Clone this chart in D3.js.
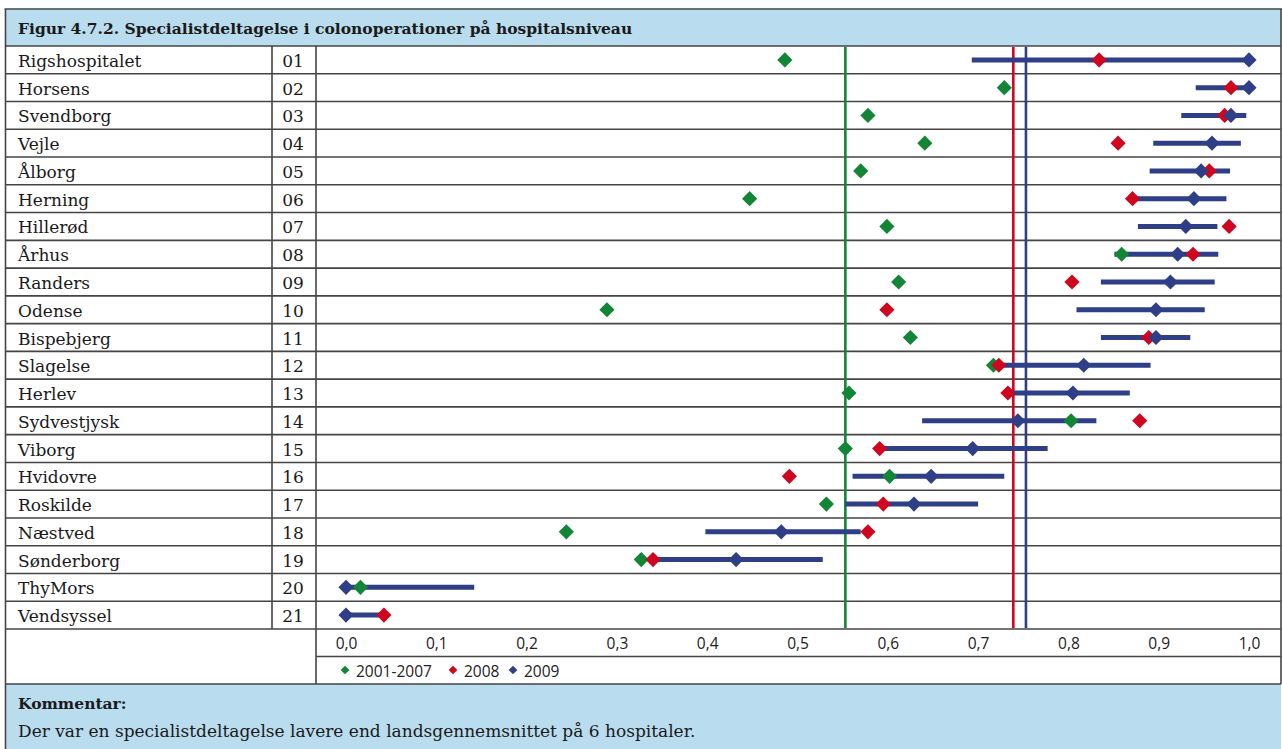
<!DOCTYPE html>
<html><head><meta charset="utf-8">
<script src="https://cdn.jsdelivr.net/npm/d3@7/dist/d3.min.js"></script>
<style>
html,body{margin:0;padding:0;background:#fff;}
svg{display:block;}
</style></head>
<body>
<svg id="chart" width="1282" height="749"></svg>
<script>
// ---- data ----
const hospitals = ["Rigshospitalet","Horsens","Svendborg","Vejle","Ålborg","Herning","Hillerød","Århus","Randers","Odense","Bispebjerg","Slagelse","Herlev","Sydvestjysk","Viborg","Hvidovre","Roskilde","Næstved","Sønderborg","ThyMors","Vendsyssel"];
const codes = ["01","02","03","04","05","06","07","08","09","10","11","12","13","14","15","16","17","18","19","20","21"];
const v2001_2007 = [0.486,0.729,0.578,0.641,0.570,0.447,0.599,0.859,0.612,0.289,0.625,0.717,0.557,0.803,0.553,0.602,0.532,0.244,0.327,0.016,null];
const v2008 = [0.834,0.980,0.973,0.855,0.956,0.871,0.978,0.938,0.804,0.599,0.889,0.723,0.733,0.879,0.591,0.491,0.595,0.578,0.340,null,0.042];
const v2009 = [1.000,1.000,0.980,0.959,0.947,0.939,0.930,0.921,0.913,0.897,0.897,0.817,0.805,0.744,0.694,0.648,0.629,0.482,0.432,0.000,0.000];
const ci2009Low = [0.693,0.941,0.925,0.894,0.890,0.875,0.877,0.851,0.836,0.809,0.836,0.724,0.737,0.638,0.595,0.561,0.553,0.398,0.343,0.000,0.000];
const ci2009High = [1.000,1.000,0.997,0.991,0.979,0.975,0.965,0.966,0.962,0.951,0.935,0.891,0.868,0.831,0.777,0.729,0.700,0.570,0.528,0.142,0.040];
const nationalAvg = [0.553, 0.739, 0.753]; // 2001-2007, 2008, 2009
const seriesNames = ["2001-2007","2008","2009"];
const tickValues = [0,0.1,0.2,0.3,0.4,0.5,0.6,0.7,0.8,0.9,1.0];
const titleText = "Figur 4.7.2. Specialistdeltagelse i colonoperationer på hospitalsniveau";
const commentHead = "Kommentar:";
const commentText = "Der var en specialistdeltagelse lavere end landsgennemsnittet på 6 hospitaler.";

// ---- style ----
const colors = ["#128536","#d0061f","#2e3f87"];
const bandFill = "#b9dcee";
const lineCol = "#454545";
const serif = "'DejaVu Serif', serif";
const sans = "'Open Sans', 'Liberation Sans', Arial, sans-serif";

const svg = d3.select("#chart");
const L = 5.5, R = 1281, T = 9, rowTop = 46, rowBot = 629, axisBot = 656.5, legBot = 684, B = 749;
const colNum = 272, colPlot = 316;

const x = d3.scaleLinear().domain([0,1]).range([346,1249]);
const y = d3.scaleBand().domain(hospitals).range([rowTop,rowBot]);

// bands
svg.append("rect").attr("x",L).attr("y",T).attr("width",R-L).attr("height",rowTop-T).attr("fill",bandFill);
svg.append("rect").attr("x",L).attr("y",legBot).attr("width",R-L).attr("height",B-legBot).attr("fill",bandFill);

// grid lines
const g = svg.append("g").attr("stroke",lineCol).attr("stroke-width",1.6);
g.append("line").attr("x1",L-1).attr("x2",R+1).attr("y1",T).attr("y2",T);
hospitals.forEach((h,i)=>{
  g.append("line").attr("x1",L).attr("x2",R).attr("y1",y(h)).attr("y2",y(h));
});
g.append("line").attr("x1",L).attr("x2",R).attr("y1",rowBot).attr("y2",rowBot);
g.append("line").attr("x1",colPlot).attr("x2",R).attr("y1",axisBot).attr("y2",axisBot);
g.append("line").attr("x1",L).attr("x2",R).attr("y1",legBot).attr("y2",legBot);
g.append("line").attr("x1",L).attr("x2",L).attr("y1",T).attr("y2",B);
g.append("line").attr("x1",R).attr("x2",R).attr("y1",T).attr("y2",legBot);
g.append("line").attr("x1",colNum).attr("x2",colNum).attr("y1",rowTop).attr("y2",rowBot);
g.append("line").attr("x1",colPlot).attr("x2",colPlot).attr("y1",rowTop).attr("y2",legBot);

// title
svg.append("text").attr("x",18).attr("y",28).attr("dominant-baseline","central")
  .attr("font-family",serif).attr("font-weight","bold").attr("font-size",15.5).attr("fill","#1a1a1a").text(titleText);

// row labels
svg.append("g").selectAll("text").data(hospitals).join("text")
  .attr("x",18).attr("y",d=>y(d)+y.bandwidth()/2+1).attr("dominant-baseline","central")
  .attr("font-family",serif).attr("font-size",17).attr("fill","#1a1a1a").text(d=>d);
svg.append("g").selectAll("text").data(codes).join("text")
  .attr("x",293).attr("y",(d,i)=>y(hospitals[i])+y.bandwidth()/2+1).attr("dominant-baseline","central").attr("text-anchor","middle")
  .attr("font-family",serif).attr("font-size",17).attr("fill","#1a1a1a").text(d=>d);

// national average lines
svg.append("g").selectAll("line").data(nationalAvg).join("line")
  .attr("x1",d=>x(d)).attr("x2",d=>x(d)).attr("y1",rowTop+1).attr("y2",rowBot-1)
  .attr("stroke",(d,i)=>colors[i]).attr("stroke-width",2.6);

// CI lines
svg.append("g").selectAll("line").data(hospitals).join("line")
  .attr("x1",(d,i)=>x(ci2009Low[i])).attr("x2",(d,i)=>x(ci2009High[i]))
  .attr("y1",d=>y(d)+y.bandwidth()/2).attr("y2",d=>y(d)+y.bandwidth()/2)
  .attr("stroke",colors[2]).attr("stroke-width",5);

// diamonds
const diamond = d3.symbol().type(d3.symbolSquare).size(115);
[v2001_2007, v2008, v2009].forEach((vals,s)=>{
  svg.append("g").selectAll("path").data(hospitals.map((h,i)=>({h,v:vals[i]})).filter(d=>d.v!=null)).join("path")
    .attr("d",diamond)
    .attr("transform",d=>`translate(${x(d.v)},${y(d.h)+y.bandwidth()/2}) rotate(45)`)
    .attr("fill",colors[s]);
});

// axis
const axis = d3.axisBottom(x).tickValues(tickValues).tickSize(0).tickPadding(0)
  .tickFormat(d=>d3.format(".1f")(d).replace(".",","));
const ax = svg.append("g").attr("transform",`translate(0,${rowBot})`).call(axis);
ax.select(".domain").remove();
ax.selectAll("text").attr("y",13.5).attr("dy",0).attr("dominant-baseline","central")
  .attr("font-family",sans).attr("font-size",15.5).attr("fill","#222");

// legend
const legX = [345, 453, 513];
const leg = svg.append("g");
const legItems = leg.selectAll("g").data(seriesNames).join("g")
  .attr("transform",(d,i)=>`translate(${legX[i]},670)`);
legItems.append("path").attr("d",d3.symbol().type(d3.symbolSquare).size(38)).attr("transform","rotate(45)")
  .attr("fill",(d,i)=>colors[i]);
legItems.append("text").attr("x",11).attr("y",1).attr("dominant-baseline","central")
  .attr("font-family",sans).attr("font-size",15.5).attr("fill","#222").text(d=>d);

// comment
svg.append("text").attr("x",18).attr("y",703).attr("dominant-baseline","central")
  .attr("font-family",serif).attr("font-weight","bold").attr("font-size",15.5).attr("fill","#1a1a1a").text(commentHead);
svg.append("text").attr("x",18).attr("y",731).attr("dominant-baseline","central")
  .attr("font-family",serif).attr("font-size",17).attr("fill","#1a1a1a").text(commentText);
</script>
</body></html>
